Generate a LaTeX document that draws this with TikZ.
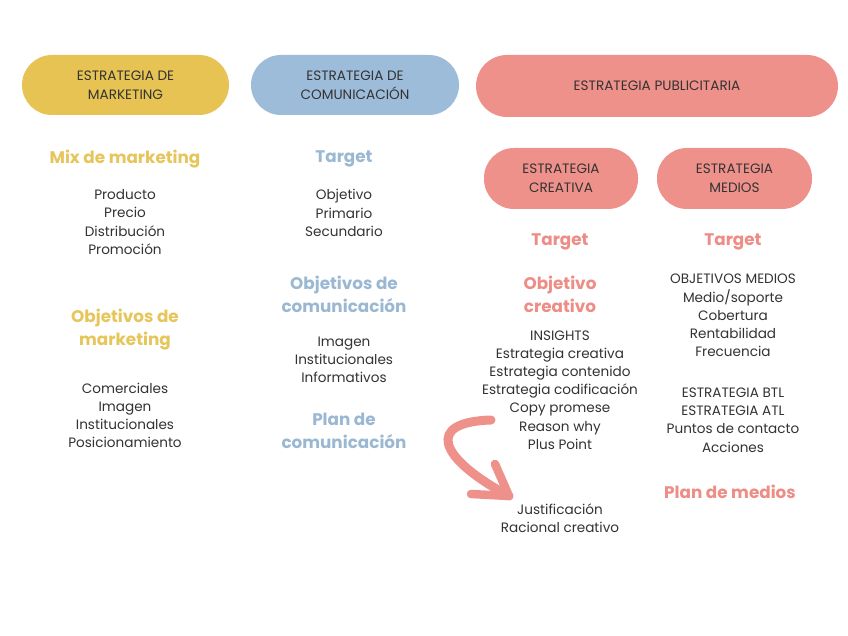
\documentclass[tikz,border=0pt]{standalone}
\usepackage{fontspec}
\setmainfont{Poppins}
\definecolor{yel}{HTML}{E6C352}
\definecolor{blu}{HTML}{9DBCDA}
\definecolor{pnk}{HTML}{EF918B}
\definecolor{yelT}{HTML}{E6C65A}
\definecolor{bluT}{HTML}{9BB8D3}
\definecolor{pnkT}{HTML}{EE8C86}
\definecolor{txt}{HTML}{333333}
\begin{document}
\begin{tikzpicture}[x=1pt,y=-1pt,
  pill/.style={rounded corners=30pt, inner sep=0pt, text=txt, align=center,
    font=\fontsize{13.6}{19}\selectfont},
  head/.style={align=center, font=\fontsize{16.8}{23}\selectfont\bfseries},
  body/.style={align=center, text=txt, font=\fontsize{13.6}{18.2}\selectfont}]
\useasboundingbox (0,0) rectangle (848,636);
\fill[white] (0,0) rectangle (848,636);
% pills
\node[pill, fill=yel, minimum width=207pt, minimum height=60pt] (pmk) at (125.5,85) {ESTRATEGIA DE\\MARKETING};
\node[pill, fill=blu, minimum width=208pt, minimum height=60pt] (pcm) at (355,85) {ESTRATEGIA DE\\COMUNICACIÓN};
\node[pill, fill=pnk, minimum width=362pt, minimum height=62pt, rounded corners=31pt] (ppb) at (657,86) {ESTRATEGIA PUBLICITARIA};
\node[pill, fill=pnk, minimum width=154pt, minimum height=61pt] (pcr) at (561,178.5) {ESTRATEGIA\\CREATIVA};
\node[pill, fill=pnk, minimum width=155pt, minimum height=61pt] (pmd) at (734.5,178.5) {ESTRATEGIA\\MEDIOS};
% column 1
\node[head, text=yelT] (h11) at (125,159) {Mix de marketing};
\node[body] (b11) at (125,222) {Producto\\Precio\\Distribución\\Promoción};
\node[head, text=yelT] (h12) at (125,330) {Objetivos de\\marketing};
\node[body] (b12) at (125,415.5) {Comerciales\\Imagen\\Institucionales\\Posicionamiento};
% column 2
\node[head, text=bluT] (h21) at (344,159) {Target};
\node[body] (b21) at (344,213) {Objetivo\\Primario\\Secundario};
\node[head, text=bluT] (h22) at (344,294) {Objetivos de\\comunicación};
\node[body] (b22) at (344,360) {Imagen\\Institucionales\\Informativos};
\node[head, text=bluT] (h23) at (344,431) {Plan de\\comunicación};
% column 3
\node[head, text=pnkT] (h31) at (560,242) {Target};
\node[head, text=pnkT] (h32) at (560,294) {Objetivo\\creativo};
\node[body] (b31) at (560,390) {INSIGHTS\\Estrategia creativa\\Estrategia contenido\\Estrategia codificación\\Copy promese\\Reason why\\Plus Point};
\node[body] (b32) at (560,518) {Justificación\\Racional creativo};
% column 4
\node[head, text=pnkT] (h41) at (733,242) {Target};
\node[body] (b41) at (733,315.5) {OBJETIVOS MEDIOS\\Medio/soporte\\Cobertura\\Rentabilidad\\Frecuencia};
\node[body] (b42) at (733,420) {ESTRATEGIA BTL\\ESTRATEGIA ATL\\Puntos de contacto\\Acciones};
\node[head, text=pnkT] (h42) at (730,492) {Plan de medios};
% arrow
\coordinate (as) at (491,420);
\coordinate (at) at (509,496);
\coordinate (aa) at (495,464);
\coordinate (ab) at (471,494);
\draw[pnk, line width=9pt, line cap=round] (as) .. controls (425,422) and (438,458) .. (at);
\draw[pnk, line width=8.5pt, line cap=round, line join=round] (aa) -- (at) -- (ab);
\end{tikzpicture}
\end{document}
